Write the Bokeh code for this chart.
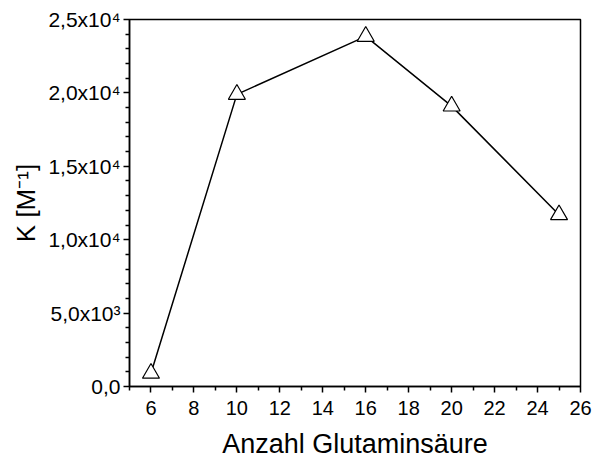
from bokeh.plotting import figure
from bokeh.models import FixedTicker, Range1d
from bokeh.embed import file_html
from bokeh.resources import INLINE

# data
glutamate_count = [6, 10, 16, 20, 25]
k_values = [900, 19900, 23850, 19100, 11700]

x_major_ticks = [6, 8, 10, 12, 14, 16, 18, 20, 22, 24, 26]
x_minor_ticks = [5, 7, 9, 11, 13, 15, 17, 19, 21, 23, 25]
y_major_ticks = [0, 5000, 10000, 15000, 20000, 25000]
y_tick_labels = ["0,0", "5,0x10³", "1,0x10⁴", "1,5x10⁴", "2,0x10⁴", "2,5x10⁴"]
y_minor_ticks = [v for v in range(0, 25001, 1000) if v % 5000 != 0]

x_title = "Anzahl Glutaminsäure"
y_title = "K [M⁻¹]"

FONT = "Liberation Sans"

p = figure(width=592, height=461, output_backend="svg", toolbar_location=None,
           x_range=Range1d(5, 26), y_range=Range1d(0, 25000),
           min_border_left=129, min_border_right=12, min_border_top=19, min_border_bottom=74)

p.xgrid.visible = False
p.ygrid.visible = False
p.background_fill_color = "white"
p.border_fill_color = "white"
p.outline_line_color = "black"
p.outline_line_width = 1.5

for ax in (p.xaxis[0], p.yaxis[0]):
    ax.axis_line_width = 1.5
    ax.axis_line_color = "black"
    ax.major_tick_line_width = 1.5
    ax.minor_tick_line_width = 1.5
    ax.major_tick_in = 0
    ax.major_tick_out = 6
    ax.minor_tick_in = 0
    ax.minor_tick_out = 4
    ax.major_label_text_font = FONT
    ax.major_label_text_color = "black"
    ax.axis_label_text_font = FONT
    ax.axis_label_text_font_style = "normal"
    ax.axis_label_text_color = "black"

p.xaxis[0].ticker = FixedTicker(ticks=x_major_ticks, minor_ticks=x_minor_ticks)
p.xaxis[0].major_label_text_font_size = "20px"
p.xaxis[0].major_label_standoff = 8
p.xaxis[0].axis_label = x_title
p.xaxis[0].axis_label_text_font_size = "27px"
p.xaxis[0].axis_label_standoff = 11

p.yaxis[0].ticker = FixedTicker(ticks=y_major_ticks, minor_ticks=y_minor_ticks)
p.yaxis[0].major_label_overrides = {v: s for v, s in zip(y_major_ticks, y_tick_labels)}
p.yaxis[0].major_label_text_font_size = "21px"
p.yaxis[0].major_label_standoff = 3
p.yaxis[0].axis_label = y_title
p.yaxis[0].axis_label_text_font_size = "26px"
p.yaxis[0].axis_label_standoff = 4

p.line(glutamate_count, k_values, line_color="black", line_width=1.5)
p.scatter(glutamate_count, k_values, marker="triangle", size=17,
          fill_color="white", line_color="black", line_width=1.2)

open("out.html", "w").write(file_html(p, INLINE))
